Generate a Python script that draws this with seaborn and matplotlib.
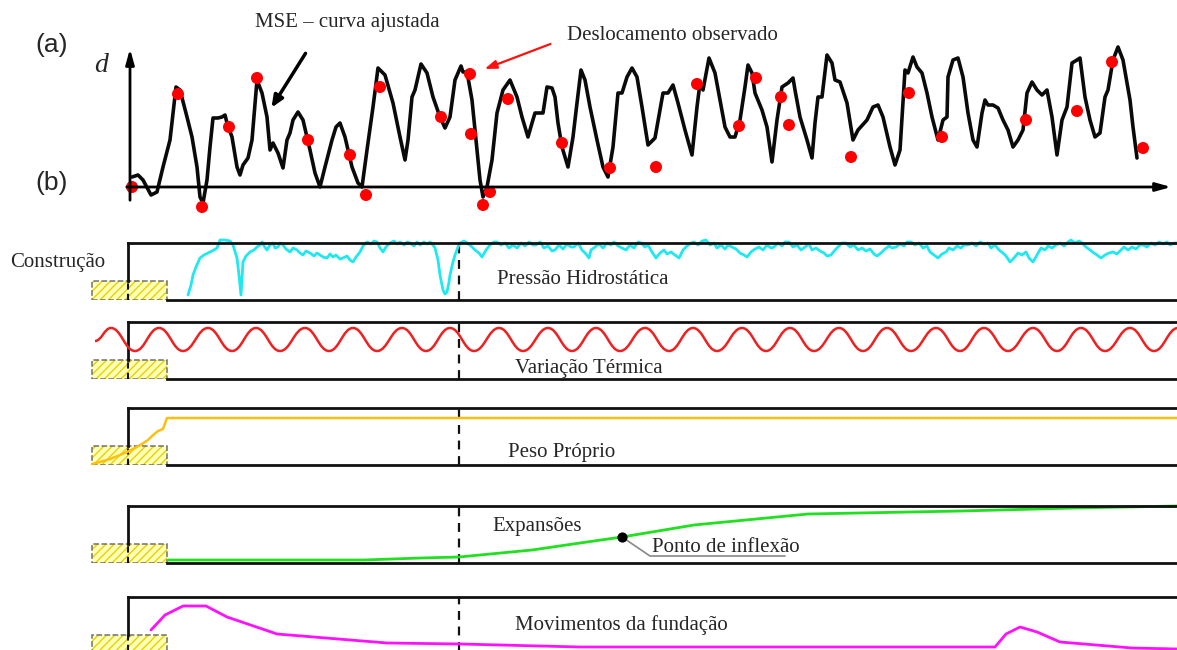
import numpy as np
import pandas as pd
import seaborn as sns
import matplotlib.pyplot as plt
from matplotlib.patches import Rectangle, PathPatch
from matplotlib.path import Path

# ---------------- data ----------------
# (a) fitted MSE curve: time vs displacement (arbitrary units)
fit_t = [2, 8, 13, 21, 27, 33, 40, 46, 50, 57, 62, 67, 70, 73, 77, 80, 83, 88, 92, 95, 97, 102,
         107, 110, 113, 118, 122, 127, 132, 137, 140, 143, 148, 153, 157, 160, 163, 168, 173, 180,
         185, 190, 195, 202, 206, 210, 215, 222, 228, 232, 237, 243, 248, 255, 263, 270, 275, 278,
         282, 285, 291, 297, 303, 310, 315, 320, 325, 328, 331, 333, 337, 342, 347, 350, 353, 357,
         362, 367, 373, 380, 387, 392, 398, 402, 405, 413, 417, 422, 425, 428, 432, 438, 443, 447,
         451, 455, 460, 467, 473, 478, 483, 488, 492, 497, 502, 507, 512, 518, 525, 533, 538, 543,
         548, 555, 562, 567, 570, 573, 579, 585, 590, 595, 600, 605, 610, 615, 618, 622, 625, 632,
         637, 642, 647, 652, 658, 663, 665, 670, 677, 682, 685, 688, 692, 697, 702, 705, 710, 717,
         723, 728, 737, 743, 748, 753, 760, 765, 770, 775, 778, 783, 787, 792, 797, 802, 808, 813,
         817, 818, 823, 828, 833, 838, 843, 847, 852, 855, 858, 863, 868, 873, 878, 883, 888, 893,
         897, 902, 907, 912, 917, 922, 927, 932, 937, 942, 947, 950, 955, 960, 965, 970, 975, 978,
         983, 988, 993, 1000, 1003, 1007]
fit_d = [10, 12, 7, -8, -5, 20, 47, 100, 97, 70, 50, 20, -10, -16, 7, 40, 69, 69, 70, 72, 64, 50,
         20, 12, 22, 29, 47, 107, 94, 70, 37, 44, 34, 19, 47, 54, 67, 75, 67, 37,
         14, 0, 20, 47, 60, 64, 50, 20, 4, 0, 37, 80, 119, 112, 84, 50, 27, 47,
         90, 97, 123, 114, 90, 70, 59, 70, 107, 114, 121, 115, 115, 87, 37, 7, -10, 0,
         27, 74, 97, 107, 90, 70, 50, 64, 74, 74, 100, 99, 90, 64, 40, 20, 50, 84,
         117, 107, 80, 47, 20, 10, 40, 94, 94, 110, 119, 110, 80, 42, 49, 94, 94, 102,
         84, 57, 32, 80, 104, 97, 129, 114, 87, 60, 50, 50, 67, 100, 122, 114, 94, 77,
         60, 25, 67, 100, 104, 109, 97, 70, 47, 29, 64, 90, 90, 132, 124, 107, 105, 84,
         47, 57, 67, 80, 82, 70, 40, 22, 37, 117, 114, 130, 120, 114, 94, 70, 47, 67,
         70, 110, 127, 129, 110, 74, 47, 40, 74, 87, 82, 82, 79, 67, 57, 40, 47, 57,
         94, 105, 97, 92, 97, 70, 32, 67, 80, 124, 127, 129, 90, 67, 50, 54, 90, 97,
         127, 140, 127, 87, 60, 29]
# (a) observed displacements
obs_t = [2, 48, 72, 99, 127, 178, 220, 236, 250, 311, 340, 341, 353, 360, 378, 432, 480, 526,
         567, 609, 626, 651, 659, 721, 779, 812, 896, 947, 982, 1013]
obs_d = [0, 93, -20, 60, 109, 47, 32, -8, 100, 70, 113, 53, -18, -5, 88, 44, 19, 20,
         103, 61, 109, 90, 62, 30, 94, 50, 67, 76, 125, 39]

# (b) hydrostatic pressure
hyd_t = [60, 63, 65, 68, 72, 76, 82, 86, 89, 91, 92, 97, 102, 105, 109, 111, 113, 115, 118, 122,
         126, 129, 132, 134, 136, 139, 142, 145, 147, 150, 152, 155, 158, 162, 165, 169, 172, 175,
         178, 182, 186, 189, 192, 195, 199, 202, 205, 208, 212, 215, 219, 222, 225, 228, 232, 235,
         239, 243, 246, 249, 252, 255, 258, 262, 266, 269, 272, 276, 279, 282, 286, 289, 292, 296,
         299, 302, 305, 307, 310, 312, 315, 317, 319, 321, 322, 325, 327, 330, 332, 336, 339, 343,
         347, 351, 354, 358, 362, 366, 369, 373, 377, 381, 385, 389, 393, 397, 401, 405, 408, 412,
         416, 420, 424, 427, 431, 435, 439, 443, 446, 450, 454, 458, 461, 463, 467, 471, 475, 479,
         483, 486, 490, 494, 498, 502, 506, 510, 513, 517, 520, 524, 528, 532, 536, 539, 543, 547,
         551, 555, 559, 563, 566, 570, 574, 578, 582, 586, 589, 593, 597, 600, 604, 608, 612, 616,
         619, 623, 627, 631, 635, 639, 643, 646, 650, 654, 657, 661, 665, 669, 673, 677, 681, 684,
         688, 692, 696, 699, 703, 707, 711, 714, 718, 722, 726, 730, 734, 738, 742, 746, 749, 753,
         757, 761, 764, 768, 772, 776, 779, 783, 787, 791, 795, 799, 802, 806, 810, 814, 818, 821,
         825, 829, 833, 836, 840, 844, 848, 852, 856, 860, 863, 867, 871, 875, 878, 882, 886, 890,
         894, 898, 901, 905, 909, 913, 917, 920, 924, 928, 932, 936, 940, 943, 947, 951, 954, 958,
         962, 966, 969, 973, 977, 981, 985, 989, 993, 996, 1000, 1004, 1008, 1012, 1015, 1019, 1023,
         1027, 1031, 1035, 1039, 1042, 1046, 1049]
hyd_v = [5, 15, 25, 33, 42, 45, 48, 50, 52, 57, 60, 60, 59, 55, 42, 25, 5, 38, 44, 48,
         50, 53, 55, 58, 54, 50, 55, 57, 52, 53, 57, 55, 51, 48, 52, 50, 47, 45,
         49, 47, 44, 47, 45, 43, 42, 46, 43, 45, 41, 42, 44, 40, 38, 43, 48, 54,
         58, 56, 59, 58, 52, 48, 53, 57, 59, 56, 58, 55, 58, 57, 54, 58, 55, 58,
         56, 58, 55, 52, 40, 25, 10, 6, 8, 18, 25, 38, 45, 53, 57, 59, 57, 54,
         50, 47, 43, 50, 55, 58, 58, 55, 57, 52, 55, 52, 57, 54, 58, 55, 55, 58,
         52, 54, 49, 50, 55, 51, 56, 53, 53, 57, 50, 46, 42, 50, 53, 56, 52, 57,
         55, 58, 54, 52, 50, 55, 52, 58, 57, 53, 55, 48, 42, 47, 50, 46, 48, 45,
         42, 50, 54, 57, 58, 55, 59, 60, 55, 57, 52, 55, 51, 55, 53, 51, 47, 45,
         43, 48, 51, 53, 50, 55, 52, 53, 57, 54, 58, 58, 53, 55, 50, 53, 56, 50,
         52, 49, 47, 44, 45, 50, 54, 57, 57, 53, 55, 50, 52, 49, 51, 46, 44, 47,
         51, 54, 52, 53, 56, 54, 58, 58, 55, 57, 52, 54, 48, 45, 42, 46, 48, 52,
         50, 54, 52, 55, 55, 57, 54, 58, 56, 57, 52, 55, 50, 47, 44, 38, 42, 47,
         45, 48, 42, 38, 45, 52, 50, 54, 52, 55, 57, 54, 58, 60, 57, 59, 57, 53,
         50, 47, 45, 42, 45, 47, 48, 46, 50, 53, 50, 53, 51, 55, 55, 53, 57,
         55, 58, 56, 58, 55, 57, 57]

# (b) thermal variation: positions of crests and troughs
temp_start = (-33, 38)
temp_peaks = [-17, 31, 80, 128, 177, 225, 274, 322, 371, 420, 468, 517, 565, 614, 662, 711,
              759, 808, 856, 905, 953, 1002, 1050]
temp_troughs = [7, 55, 104, 152, 201, 249, 298, 346, 395, 444, 492, 541, 589, 638, 686, 735,
                783, 832, 880, 929, 977, 1026]
temp_hi, temp_lo = 51, 28

# (b) self weight
wgt_t = [-36, -28, -18, -8, -1, 7, 14, 20, 24, 30, 35, 39, 1049]
wgt_v = [1, 3, 6, 10, 13, 17, 21, 25, 29, 34, 36, 47, 47]

# (b) expansions
exp_t = [40, 140, 236, 293, 331, 404, 452, 494, 566, 680, 833, 947, 1049]
exp_v = [3, 3, 3, 5, 6, 13, 20, 26, 38, 49, 52, 55, 57]
inflex_t, inflex_v = 494, 26

# (b) foundation movements
fnd_t = [23, 37, 55, 78, 99, 149, 259, 332, 452, 867, 878, 892, 909, 932, 1004, 1049]
fnd_v = [24, 39, 48, 48, 37, 20, 11, 10, 7, 7, 20, 27, 22, 12, 6, 5]

construction = (-36, 39)   # construction period (time)
first_fill = 331           # first reservoir filling

# ---------------- figure ----------------
W, H = 1177, 650
sns.set_style("white")
plt.rcParams['font.family'] = ['Liberation Serif', 'DejaVu Serif']

fig = plt.figure(figsize=(W / 100, H / 100), dpi=100)


def band(y_top, y_bot):
    return [0, 1 - y_bot / H, 1, (y_bot - y_top) / H]


FS = 15

# (a) displacement
ax = fig.add_axes(band(0, 220))
ax.set_xlim(-130, 1047)
ax.set_ylim(-33, 187)
ax.axis('off')
sns.lineplot(x=fit_t, y=fit_d, color='#0a0a0a', lw=2.6, sort=False, estimator=None, ax=ax)
sns.scatterplot(x=obs_t, y=obs_d, color='#ff0000', s=75, edgecolor='none', zorder=3, ax=ax)
ax.annotate('', xy=(1044, 0), xytext=(-6, 0),
            arrowprops=dict(arrowstyle='-|>,head_length=0.9,head_width=0.25', lw=2, color='black'))
ax.annotate('', xy=(0, 141), xytext=(0, -16),
            arrowprops=dict(arrowstyle='-|>,head_length=0.9,head_width=0.25', lw=2, color='black'))
ax.text(-36, 122, 'd', fontsize=20, style='italic', va='center', ha='left')
ax.text(125, 165, 'MSE – curva ajustada', fontsize=FS, va='center', ha='left')
ax.annotate('', xy=(140, 77), xytext=(177, 136),
            arrowprops=dict(arrowstyle='-|>,head_length=0.7,head_width=0.3', lw=2.5, color='black'))
ax.text(437, 152, 'Deslocamento observado', fontsize=FS, va='center', ha='left')
ax.annotate('', xy=(352, 117), xytext=(423, 144),
            arrowprops=dict(arrowstyle='-|>,head_length=0.7,head_width=0.25', lw=1.6, color='#ff1010'))

fig.text(35 / W, 1 - 45 / H, '(a)', fontsize=19, family='Liberation Sans', va='center')
fig.text(35 / W, 1 - 183 / H, '(b)', fontsize=19, family='Liberation Sans', va='center')

# (b) panels
tops = [243, 322, 408, 506, 597]
panels = []
for top in tops:
    p = fig.add_axes(band(top, top + 57))
    p.set_xlim(-128, 1049)
    p.set_ylim(0, 57)
    p.set_xticks([])
    p.set_yticks([])
    p.patch.set_alpha(0)
    for s in p.spines.values():
        s.set_linewidth(2)
        s.set_color('#111111')
    p.spines['right'].set_visible(False)
    p.spines['left'].set_position(('data', 0))
    p.spines['left'].set_bounds(19, 57)
    p.spines['top'].set_bounds(0, 1049)
    p.spines['bottom'].set_bounds(construction[1], 1049)
    p.add_patch(Rectangle((construction[0], 0), construction[1] - construction[0], 19,
                          facecolor='#ffffb8', edgecolor='#e6d200', hatch='////', lw=0, zorder=1))
    p.add_patch(Rectangle((construction[0], 0), construction[1] - construction[0], 19,
                          facecolor='none', edgecolor='#707070', ls='--', lw=1.1, zorder=2))
    p.axvline(0, ymax=19 / 57, color='#111111', ls=(0, (3, 2)), lw=1.5, zorder=2)
    p.axvline(first_fill, color='#111111', ls=(0, (4, 3)), lw=1.6, zorder=2)
    panels.append(p)

p1, p2, p3, p4, p5 = panels

sns.lineplot(x=hyd_t, y=hyd_v, color='#1ee8f0', lw=2, sort=False, estimator=None, ax=p1)
p1.text(369, 20, 'Pressão Hidrostática', fontsize=FS, va='center')
p1.text(-118, 38, 'Construção', fontsize=FS, va='center')

# thermal wave, smooth between crests and troughs
ext = [temp_start]
for i, pk in enumerate(temp_peaks):
    ext.append((pk, temp_hi))
    if i < len(temp_troughs):
        ext.append((temp_troughs[i], temp_lo))
verts = [ext[0]]
codes = [Path.MOVETO]
for (x0, y0), (x1, y1) in zip(ext[:-1], ext[1:]):
    dx = x1 - x0
    verts += [(x0 + 0.42 * dx, y0), (x1 - 0.42 * dx, y1), (x1, y1)]
    codes += [Path.CURVE4] * 3
p2.add_patch(PathPatch(Path(verts, codes), facecolor='none', edgecolor='#f02020', lw=1.8,
                       clip_on=False, zorder=3))
p2.text(387, 11, 'Variação Térmica', fontsize=FS, va='center')

sns.lineplot(x=wgt_t, y=wgt_v, color='#ffbf10', lw=1.8, sort=False, estimator=None, ax=p3)
p3.text(380, 13, 'Peso Próprio', fontsize=FS, va='center')

sns.lineplot(x=exp_t, y=exp_v, color='#20e020', lw=2, sort=False, estimator=None, ax=p4)
p4.scatter([inflex_t], [inflex_v], color='black', s=40, zorder=4)
p4.plot([inflex_t, inflex_t + 28, inflex_t + 163], [inflex_v, 7, 7], color='#888888', lw=1.2)
p4.text(364, 36, 'Expansões', fontsize=FS, va='center')
p4.text(524, 16, 'Ponto de inflexão', fontsize=FS, va='center')

sns.lineplot(x=fnd_t, y=fnd_v, color='#ff10ff', lw=2, sort=False, estimator=None, ax=p5)
p5.text(387, 29, 'Movimentos da fundação', fontsize=FS, va='center')

for p in panels:
    for line in p.get_lines():
        line.set_clip_on(False)
    if p.get_legend():
        p.get_legend().remove()

fig.savefig('out.png', dpi=100)
